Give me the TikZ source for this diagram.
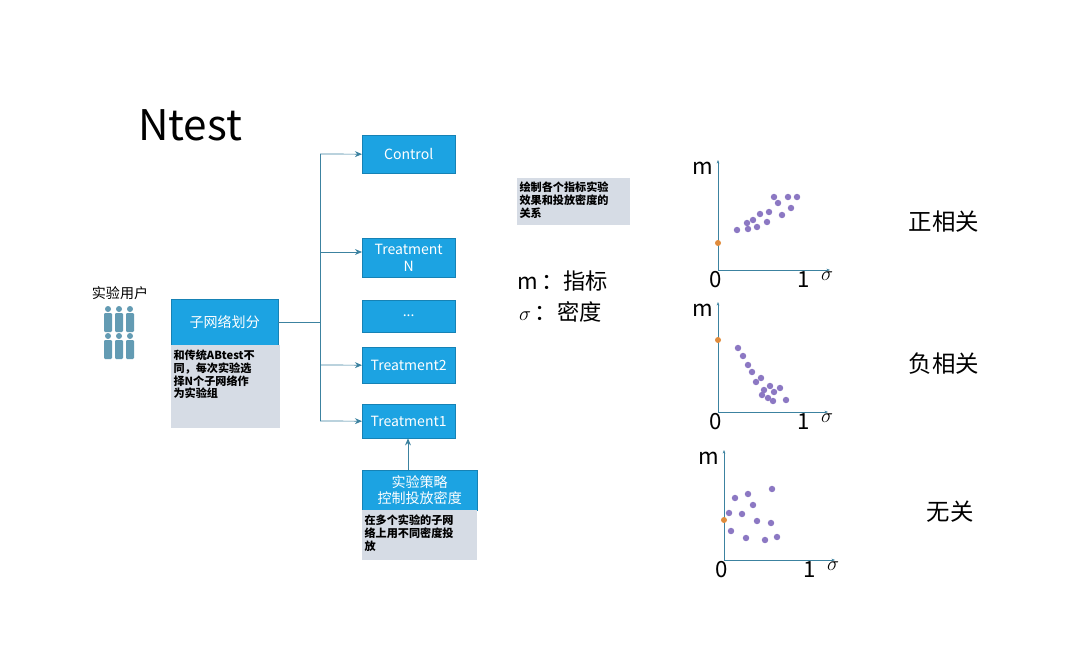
\documentclass[tikz,border=0pt]{standalone}
\usepackage{fontspec}
\setmainfont{Noto Sans CJK SC}
\usepackage{tikz}
\usetikzlibrary{positioning,arrows.meta}
\definecolor{boxblue}{RGB}{28,163,226}
\definecolor{notegray}{RGB}{214,220,229}
\definecolor{linecol}{RGB}{60,130,160}
\definecolor{dotcol}{RGB}{140,120,195}
\definecolor{zerodot}{RGB}{225,140,60}

\begin{document}
\begin{tikzpicture}[x=0.03cm,y=-0.03cm,
    bluebox/.style={fill=boxblue,draw=boxblue!80!black,line width=0.3pt,
        text=white,font=\fontsize{12}{14}\selectfont,align=center,
        inner sep=0pt,anchor=north west},
    notetext/.style={font=\bfseries\fontsize{9.5}{11}\selectfont,
        align=left,inner sep=2pt,anchor=north west},
    arr/.style={-{Stealth[length=6pt,width=5pt]},linecol,semithick},
    axis/.style={-{Stealth[length=3pt]},linecol,thick},
    dot/.style={circle,fill=dotcol,inner sep=0pt,minimum size=5.5pt},
    big/.style={font=\fontsize{19}{21}\selectfont}]
    \useasboundingbox (0,0) rectangle (1080,669);
    \fill[white] (0,0) rectangle (1080,669);

    \node (title) at (190,125) {\fontsize{36}{40}\selectfont Ntest};
    \node (users) at (120,293) {\fontsize{12}{14}\selectfont 实验用户};
    \foreach \r in {0,1}
        \foreach \c in {0,1,2} {
            \fill[linecol!80] (108+\c*11,309+\r*27) circle (3);
            \fill[linecol!80, rounded corners=1pt] (104+\c*11,313+\r*27) rectangle (112+\c*11,332+\r*27);
        }

    % left part
    \node[bluebox,minimum width=107*0.03cm,minimum height=46*0.03cm] (split) at (171,299) {子网络划分};
    \fill[notegray] (171,345) rectangle (280,428);
    \node[notetext] (splitnote) at (171,347) {和传统ABtest不\\同，每次实验选\\择N个子网络作\\为实验组};

    % groups
    \node[bluebox,minimum width=93*0.03cm,minimum height=38*0.03cm] (ctrl) at (362,135) {Control};
    \node[bluebox,minimum width=93*0.03cm,minimum height=39*0.03cm] (trN) at (362,238) {Treatment\\N};
    \node[bluebox,minimum width=93*0.03cm,minimum height=32*0.03cm] (dots) at (362,300) {...};
    \node[bluebox,minimum width=93*0.03cm,minimum height=36*0.03cm] (tr2) at (362,347) {Treatment2};
    \node[bluebox,minimum width=93*0.03cm,minimum height=34*0.03cm] (tr1) at (362,404) {Treatment1};
    \coordinate (top) at (320,154);
    \coordinate (bot) at (320,421);
    \draw[linecol,semithick] (split.east) -- (split.east -| top);
    \draw[linecol,semithick] (top) -- (bot);
    \draw[arr] (top) -- (ctrl.west);
    \draw[arr] (320,252) -- (trN.west |- 320,252);
    \draw[arr] (320,365) -- (tr2.west);
    \draw[arr] (bot) -- (tr1.west);

    \node[bluebox,minimum width=115*0.03cm,minimum height=40*0.03cm] (strat) at (362,470) {实验策略\\控制投放密度};
    \fill[notegray] (362,510) rectangle (477,560);
    \node[notetext] (stratnote) at (362,512) {在多个实验的子网\\络上用不同密度投\\放};
    \draw[arr] (strat.north -| 408,0) -- (tr1.south -| 408,0);

    \fill[notegray] (517,178) rectangle (630,225);
    \node[notetext] (plotnote) at (517,179) {绘制各个指标实验\\效果和投放密度的\\关系};
    \node[big,anchor=west] (mlab) at (513,281) {m\,：指标};
    \node[big,anchor=west] (slab) at (515,312) {$\sigma$\,：密度};

    % plots
    \foreach \ox/\oy/\rx/\nm/\zy/\pts in {
        718/270/830/正相关/243/{737/230,747/223,748/229,753/220,757/227,760/214,767/222,769/212,774/197,778/203,782/215,788/197,791/208,797/197},
        718/412/828/负相关/340/{738/348,743/356,748/365,752/372,756/382,761/378,764/390,770/386,774/392,768/398,762/395,773/401,786/400,780/388},
        724/560/835/无关/520/{735/498,748/494,772/489,729/513,742/514,757/521,771/523,731/531,746/538,765/540,777/537,753/505}} {
        \draw[axis] (\ox,\oy) -- (\ox,\oy-110);
        \draw[axis] (\ox,\oy) -- (\rx,\oy);
        \node[big] at (\ox-15,\oy-102) {m};
        \node[big] at (\ox-2,\oy+10) {0};
        \node[big] at (\ox+86,\oy+10) {1};
        \node[big] at (\ox+109,\oy+6) {$\sigma$};
        \node[font=\fontsize{20}{22}\selectfont] at (\ox+226,\oy-48) {\nm};
        \fill[zerodot] (\ox,\zy) circle (3);
        \foreach \px/\py in \pts
            \node[dot] at (\px,\py) {};
    }
\end{tikzpicture}
\end{document}
